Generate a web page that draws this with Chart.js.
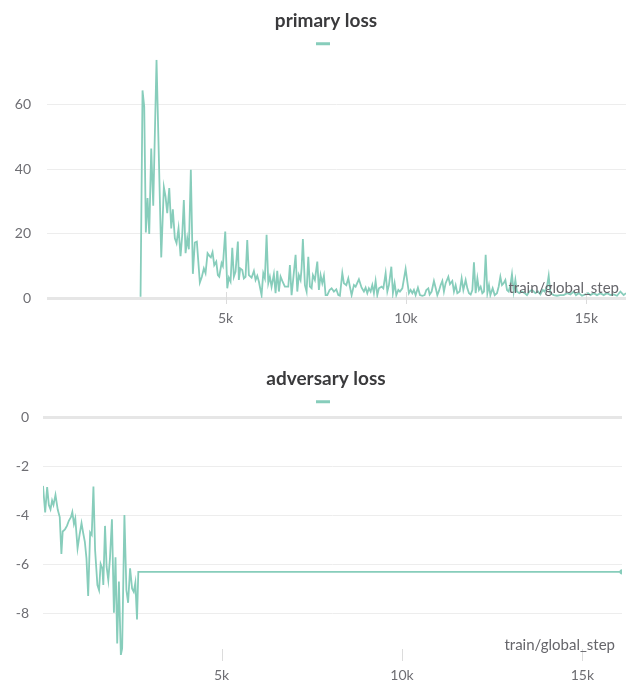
<!DOCTYPE html>
<html>
<head>
<meta charset="utf-8">
<script src="https://cdn.jsdelivr.net/npm/chart.js@4.4.1/dist/chart.umd.min.js"></script>
<style>
  html, body { margin: 0; padding: 0; background: #ffffff; }
  canvas { display: block; }
</style>
</head>
<body>
<canvas id="c1" width="626" height="358"></canvas>
<canvas id="c2" width="626" height="330"></canvas>
<script>
// ---------- data ----------
const primarySteps = [2643,2698,2745,2790,2837,2884,2939,2995,3086,3217,3289,3336,3383,3439,3494,3538,3594,3641,3696,3752,3799,3843,3891,3938,3982,4037,4093,4148,4204,4287,4343,4398,4445,4501,4556,4592,4639,4686,4742,4786,4825,4889,4925,4991,5047,5091,5138,5186,5230,5277,5341,5368,5407,5463,5507,5554,5601,5646,5721,5785,5832,5879,5923,5951,5998,6045,6090,6137,6184,6228,6275,6339,6386,6433,6478,6525,6572,6644,6738,6783,6830,6877,6941,6988,7032,7079,7107,7143,7199,7246,7293,7338,7385,7421,7476,7543,7587,7634,7681,7726,7773,7820,7884,7939,8003,8069,8125,8169,8236,8280,8347,8402,8447,8494,8558,8605,8696,8771,8835,8882,8929,8973,9021,9068,9112,9159,9206,9251,9326,9373,9437,9484,9528,9595,9639,9686,9733,9789,9833,9900,9991,10038,10083,10130,10177,10221,10268,10332,10388,10454,10518,10565,10620,10657,10712,10776,10823,10870,10915,10962,11009,11053,11101,11175,11220,11286,11331,11378,11425,11489,11544,11591,11655,11702,11747,11794,11841,11885,11932,11980,12024,12071,12118,12163,12210,12257,12301,12340,12404,12460,12523,12570,12617,12662,12709,12756,12801,12848,12895,12939,12986,13033,13077,13144,13216,13291,13355,13421,13494,13588,13660,13726,13790,13846,13910,13957,14004,14096,14187,14281,14373,14464,14558,14650,14714,14789,14880,14974,15046,15113,15204,15296,15390,15482,15573,15667,15759,15851,15945,16036,16100];
const primaryValues = [0.4,64.4,59.4,20.3,31,19.9,46.4,28.6,73.9,12.6,34.4,31.5,26.3,34.1,21.6,27.5,18.5,17,21.6,13,19.6,30.4,13.9,18.5,15.1,39.8,7.5,17.2,17.5,4.8,6.6,9.2,7.7,13.9,13,12.6,14.2,10.2,11.3,7.1,6.6,10.8,9.9,20.6,3,6.3,5.1,15.6,6.6,8.2,17.5,5.6,9.2,8.7,6.1,6.6,18,7.1,6.3,8.4,5.6,6.9,5.1,3.5,0.9,7.7,6.1,19.6,4.6,6.6,3.5,7.4,1.5,8.4,2,6.6,5.3,3.5,3.5,10.2,0.9,6.1,13.4,2,7.1,5.6,9.2,18.3,4,2,12.8,3.5,3,7.1,5.6,11.3,2.5,7.1,4.6,6.9,0.9,0.9,2.5,3,2,2.7,0.9,0.7,7.7,4.6,4,6.1,3.5,0.9,4,3.5,5.8,3.2,2,3.2,1.5,3,2,4,1.5,5.3,0.9,3,3.5,3,7.7,2,4,9.7,1.5,4.6,0.9,2.5,2,3,9,5.1,1.5,2.5,1.5,2.5,0.9,3.2,0.9,0.7,0.9,2.5,3,1.1,2,5.3,3.2,0.9,2.2,4,5.3,2,4.6,6.6,4.3,5.3,2,4,1.5,2,6.1,2.5,5.6,3,1.5,1.1,2.5,11.1,1.5,6.1,2.5,3.5,1.5,2,13.4,1.5,4,0.9,3,0.9,1.5,3.5,6.6,4,4.6,5.6,2.5,2,4,7.4,2,5.6,2,1.5,2,1.5,0.9,2,2.5,1.5,2,1.1,2.5,2,3.5,6.9,1.5,0.9,0.7,0.9,0.9,1.5,1.1,2,0.9,1.5,0.7,1.1,1.5,0.9,1.5,0.9,1.5,0.9,1.5,0.9,1.1,0.7,2,0.9,1.5];

const adversarySteps = [50,110,165,212,258,302,341,396,459,514,560,596,659,714,769,824,863,907,945,1008,1063,1118,1165,1209,1255,1302,1357,1401,1448,1494,1558,1604,1648,1695,1722,1769,1813,1860,1906,1961,2016,2060,2107,2154,2208,2244,2307,2362,2409,2464,2519,2566,2610,2656,2692,16100];
const adversaryValues = [-2.79,-3.88,-2.84,-3.57,-3.75,-3.39,-3.57,-3.16,-3.77,-4.07,-5.58,-4.66,-4.57,-4.43,-4.21,-4.07,-3.86,-4.35,-4.12,-5.35,-4.80,-4.32,-4.73,-5.07,-5.76,-7.30,-4.70,-4.80,-2.82,-5.42,-6.85,-7.06,-5.99,-6.17,-6.85,-4.43,-6.10,-6.65,-5.76,-4.16,-7.99,-5.72,-9.25,-6.71,-9.72,-9.45,-3.98,-7.06,-7.58,-6.17,-6.99,-7.13,-6.76,-8.26,-6.31,-6.31];

const xTickValues = [5000, 10000, 15000];
const xTickLabels = ['5k', '10k', '15k'];
const primaryYTicks = [0, 20, 40, 60];
const adversaryYTicks = [0, -2, -4, -6, -8];
const xAxisName = 'train/global_step';

// ---------- style ----------
const LINE = '#87cdbb';
const FONT = "Lato, 'Source Sans Pro', 'Noto Sans', sans-serif";
const TICK_COLOR = '#6e6e73';

const axisExtras = {
  id: 'axisExtras',
  afterDraw(chart) {
    const {ctx, chartArea} = chart;
    const xs = chart.scales.x;
    ctx.save();
    ctx.strokeStyle = '#dcdcdc';
    ctx.lineWidth = 1;
    xTickValues.forEach(v => {
      const px = Math.round(xs.getPixelForValue(v)) + 0.5;
      ctx.beginPath();
      ctx.moveTo(px, chartArea.bottom - 6);
      ctx.lineTo(px, chartArea.bottom + 6);
      ctx.stroke();
    });
    ctx.fillStyle = '#66666b';
    ctx.font = '15px ' + FONT;
    ctx.textAlign = 'right';
    ctx.textBaseline = 'alphabetic';
    ctx.fillText(xAxisName, chartArea.right - 7, chartArea.bottom - 5);
    ctx.restore();
  }
};

// shift title/legend centre to match the panel's visual centre
const headerShift = {
  id: 'headerShift',
  afterLayout(chart) {
    if (chart.titleBlock) chart.titleBlock.left += 26;
    if (chart.legend) chart.legend.left += 26;
  }
};

function makeChart(id, title, steps, values, yTicks, yMin, yMax, yWidth, yPad, bottomPad, lastDot) {
  const pts = steps.map((s, i) => ({x: s, y: values[i]}));
  return new Chart(document.getElementById(id), {
    type: 'line',
    data: {
      datasets: [{
        label: '',
        data: pts,
        borderColor: LINE,
        backgroundColor: LINE,
        borderWidth: 1.8,
        tension: 0,
        fill: false,
        pointRadius: ctx => (lastDot && ctx.dataIndex === pts.length - 1) ? 2.6 : 0,
        pointBorderWidth: 0,
        pointBackgroundColor: LINE
      }]
    },
    options: {
      responsive: false,
      animation: false,
      layout: { padding: { left: 0, right: 0, top: 0, bottom: bottomPad } },
      plugins: {
        title: {
          display: true,
          text: title,
          color: '#3a3a3c',
          font: { family: FONT, size: 19, weight: 'bold' },
          padding: { top: 9, bottom: 1 }
        },
        legend: {
          display: true,
          labels: {
            boxWidth: 14,
            boxHeight: 3,
            padding: 5,
            font: { family: FONT, size: 12 },
            generateLabels: () => [{
              text: '', fillStyle: LINE, strokeStyle: LINE, lineWidth: 0,
              hidden: false, datasetIndex: 0
            }]
          }
        },
        tooltip: { enabled: false }
      },
      scales: {
        x: {
          type: 'linear',
          min: 50,
          max: 16100,
          afterBuildTicks: s => { s.ticks = xTickValues.map(v => ({value: v})); },
          afterFit: s => { s.height = 32; },
          ticks: {
            autoSkip: false,
            maxRotation: 0,
            padding: 12,
            color: TICK_COLOR,
            font: { family: FONT, size: 14 },
            callback: v => xTickLabels[xTickValues.indexOf(v)]
          },
          grid: { display: false, drawTicks: false },
          border: { display: false }
        },
        y: {
          type: 'linear',
          min: yMin,
          max: yMax,
          afterBuildTicks: s => { s.ticks = yTicks.map(v => ({value: v})); },
          afterFit: s => { s.width = yWidth; },
          ticks: {
            padding: yPad,
            color: TICK_COLOR,
            font: { family: FONT, size: 14 },
            callback: v => String(v)
          },
          grid: {
            drawTicks: false,
            color: ctx => ctx.tick && ctx.tick.value === 0 ? '#e6e6e6' : '#ededed',
            lineWidth: ctx => ctx.tick && ctx.tick.value === 0 ? 3 : 1
          },
          border: { display: false }
        }
      }
    },
    plugins: [axisExtras, headerShift]
  });
}

makeChart('c1', 'primary loss', primarySteps, primaryValues, primaryYTicks, 0, 73.9, 47, 16, 28, false);
makeChart('c2', 'adversary loss', adversarySteps, adversaryValues, adversaryYTicks, -9.72, 0, 43, 14, 1, true);
</script>
</body>
</html>
